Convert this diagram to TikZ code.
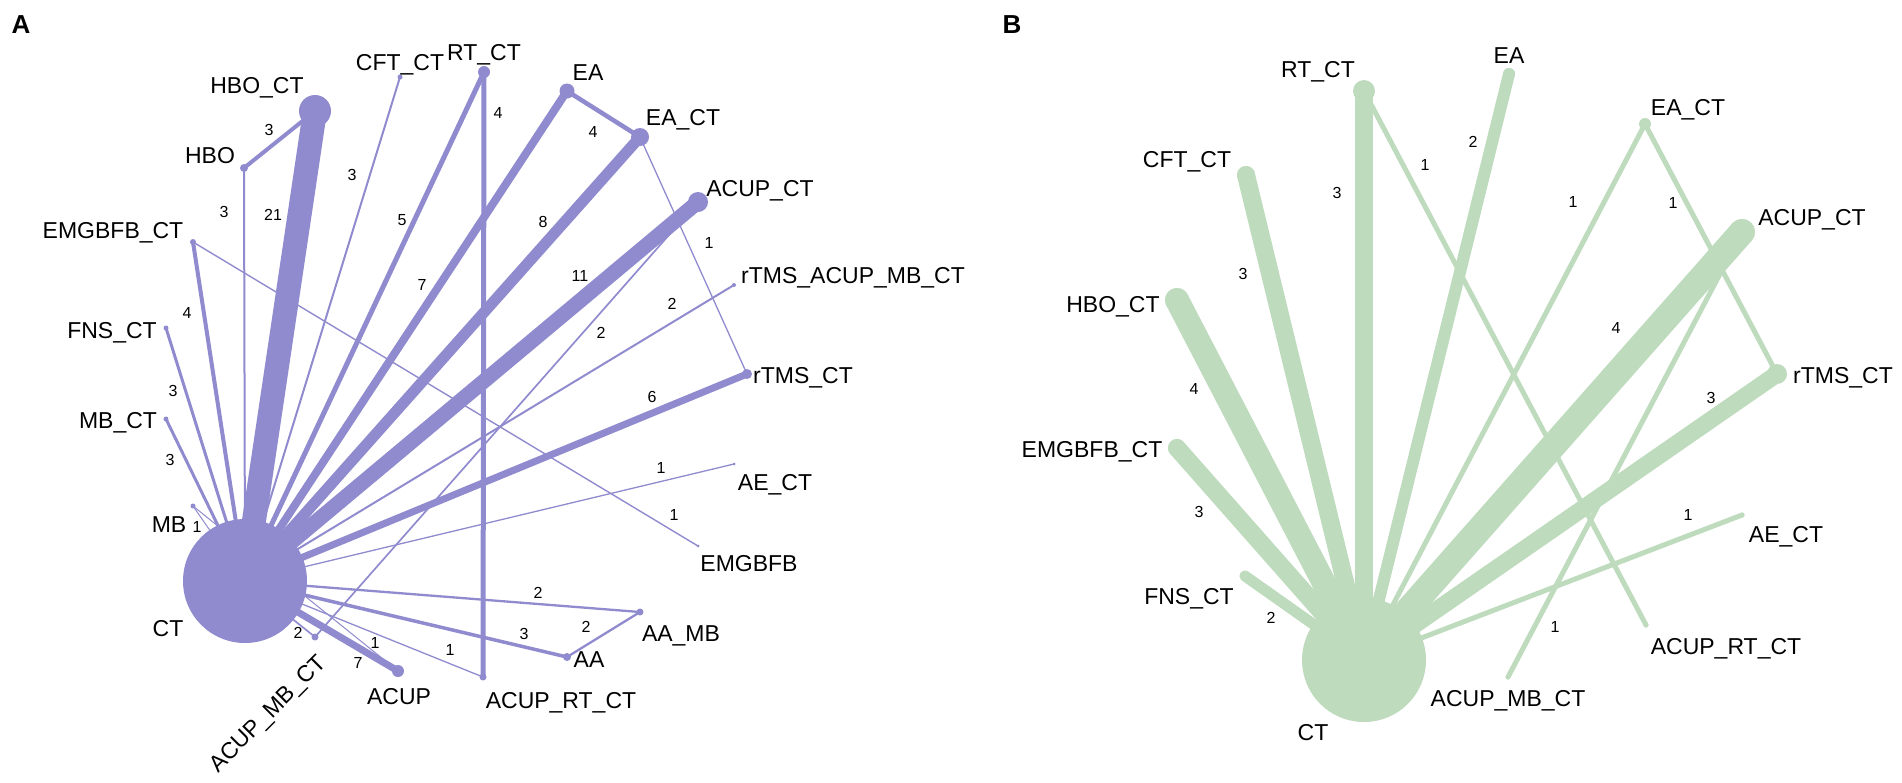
\documentclass[tikz,border=0pt]{standalone}
\usepackage{fontspec}
\setmainfont{Liberation Sans}
\usetikzlibrary{backgrounds}
\definecolor{moradoA}{RGB}{143,139,206}
\definecolor{verdeB}{RGB}{190,219,190}

\begin{document}
\begin{tikzpicture}[x=1pt,y=-1pt,
		nodoA/.style={circle, fill=moradoA, inner sep=0pt},
		nodoB/.style={circle, fill=verdeB, inner sep=0pt},
		aristaA/.style={draw=moradoA},
		aristaB/.style={draw=verdeB, line cap=round},
		etiq/.style={font=\fontsize{23}{23}\selectfont, inner sep=0pt, text height=16.5pt, text depth=0pt},
		num/.style={font=\fontsize{16}{16}\selectfont, inner sep=0pt, text height=11.5pt, text depth=0pt},
		panel/.style={font=\fontsize{26}{26}\selectfont\bfseries, inner sep=0pt, text height=18.6pt, text depth=0pt}]

		\useasboundingbox (0,0) rectangle (1902,782);

		%Panel A
		\node[panel] (pA) at (21,24) {A};

		\node[nodoA, minimum size=124] (ct) at (245,581) {};
		\node[nodoA, minimum size=32] (hboct) at (315,111) {};
		\node[nodoA, minimum size=8] (hbo) at (244,168) {};
		\node[nodoA, minimum size=5] (cftct) at (400,77) {};
		\node[nodoA, minimum size=12] (rtct) at (484,72) {};
		\node[nodoA, minimum size=15] (ea) at (567,91) {};
		\node[nodoA, minimum size=18] (eact) at (640,137) {};
		\node[nodoA, minimum size=20] (acupct) at (698,202) {};
		\node[nodoA, minimum size=4] (rtmsacupmbct) at (734,285) {};
		\node[nodoA, minimum size=10] (rtmsct) at (747,374) {};
		\node[nodoA, minimum size=3] (aect) at (734,464) {};
		\node[nodoA, minimum size=3] (emgbfb) at (698,546) {};
		\node[nodoA, minimum size=7] (aamb) at (640,612) {};
		\node[nodoA, minimum size=8] (aa) at (567,657) {};
		\node[nodoA, minimum size=7] (acuprtct) at (483,677) {};
		\node[nodoA, minimum size=12] (acup) at (398,671) {};
		\node[nodoA, minimum size=7] (acupmbct) at (315,637) {};
		\node[nodoA, minimum size=5] (mb) at (193,506) {};
		\node[nodoA, minimum size=5] (mbct) at (166,419) {};
		\node[nodoA, minimum size=5] (fnsct) at (166,328) {};
		\node[nodoA, minimum size=6] (emgbfbct) at (193,242) {};

		\begin{pgfonlayer}{background}
			\draw[aristaA, line width=24] (ct.center) -- (hboct.center);
			\draw[aristaA, line width=15] (ct.center) -- (acupct.center);
			\draw[aristaA, line width=11] (ct.center) -- (eact.center);
			\draw[aristaA, line width=8] (ct.center) -- (ea.center);
			\draw[aristaA, line width=7] (ct.center) -- (acup.center);
			\draw[aristaA, line width=7] (ct.center) -- (rtmsct.center);
			\draw[aristaA, line width=5] (ct.center) -- (rtct.center);
			\draw[aristaA, line width=4] (ct.center) -- (emgbfbct.center);
			\draw[aristaA, line width=3.5] (ct.center) -- (aa.center);
			\draw[aristaA, line width=3] (ct.center) -- (fnsct.center);
			\draw[aristaA, line width=3] (ct.center) -- (mbct.center);
			\draw[aristaA, line width=2] (ct.center) -- (hbo.center);
			\draw[aristaA, line width=2] (ct.center) -- (cftct.center);
			\draw[aristaA, line width=2.3] (ct.center) -- (aamb.center);
			\draw[aristaA, line width=2] (ct.center) -- (rtmsacupmbct.center);
			\draw[aristaA, line width=1.7] (ct.center) -- (acupmbct.center);
			\draw[aristaA, line width=1.3] (ct.center) -- (aect.center);
			\draw[aristaA, line width=1.3] (ct.center) -- (acuprtct.center);
			\draw[aristaA, line width=1] (ct.center) -- (mb.center);
			\draw[aristaA, line width=1] (mb.center) -- (acup.center);
			\draw[aristaA, line width=4] (hbo.center) -- (hboct.center);
			\draw[aristaA, line width=5] (rtct.center) -- (acuprtct.center);
			\draw[aristaA, line width=4.5] (ea.center) -- (eact.center);
			\draw[aristaA, line width=1.3] (eact.center) -- (rtmsct.center);
			\draw[aristaA, line width=1.7] (acupct.center) -- (acupmbct.center);
			\draw[aristaA, line width=1.4] (emgbfbct.center) -- (emgbfb.center);
			\draw[aristaA, line width=2.3] (aa.center) -- (aamb.center);
		\end{pgfonlayer}

		\node[etiq] (t-ct) at (168,628) {CT};
		\node[etiq] (t-hboct) at (257,85) {HBO\_CT};
		\node[etiq] (t-hbo) at (210,155) {HBO};
		\node[etiq] (t-cftct) at (400,62) {CFT\_CT};
		\node[etiq] (t-rtct) at (484,52) {RT\_CT};
		\node[etiq] (t-ea) at (588,72) {EA};
		\node[etiq] (t-eact) at (683,117) {EA\_CT};
		\node[etiq] (t-acupct) at (760,188) {ACUP\_CT};
		\node[etiq, anchor=west] (t-rtmsacupmbct) at (741,275) {rTMS\_ACUP\_MB\_CT};
		\node[etiq] (t-rtmsct) at (803,375) {rTMS\_CT};
		\node[etiq] (t-aect) at (775,482) {AE\_CT};
		\node[etiq] (t-emgbfb) at (749,563) {EMGBFB};
		\node[etiq] (t-aamb) at (681,633) {AA\_MB};
		\node[etiq] (t-aa) at (589,659) {AA};
		\node[etiq] (t-acuprtct) at (561,700) {ACUP\_RT\_CT};
		\node[etiq] (t-acup) at (399,696) {ACUP};
		\node[etiq, rotate=45] (t-acupmbct) at (267,713) {ACUP\_MB\_CT};
		\node[etiq] (t-mb) at (169,524) {MB};
		\node[etiq] (t-mbct) at (118,420) {MB\_CT};
		\node[etiq] (t-fnsct) at (112,330) {FNS\_CT};
		\node[etiq] (t-emgbfbct) at (113,230) {EMGBFB\_CT};

		\node[num] (n-hbo-hboct) at (269,130) {3};
		\node[num] (n-hbo) at (224,212) {3};
		\node[num] (n-hboct) at (273,215) {21};
		\node[num] (n-cftct) at (352,175) {3};
		\node[num] (n-rtct) at (402,220) {5};
		\node[num] (n-rtct-acuprtct) at (498,113) {4};
		\node[num] (n-ea) at (422,285) {7};
		\node[num] (n-ea-eact) at (593,132) {4};
		\node[num] (n-eact) at (543,222) {8};
		\node[num] (n-eact-rtmsct) at (709,243) {1};
		\node[num] (n-acupct) at (580,276) {11};
		\node[num] (n-acupct-acupmbct) at (601,333) {2};
		\node[num] (n-rtmsacupmbct) at (672,304) {2};
		\node[num] (n-rtmsct) at (652,397) {6};
		\node[num] (n-aect) at (661,468) {1};
		\node[num] (n-emgbfb) at (674,515) {1};
		\node[num] (n-emgbfbct) at (187,313) {4};
		\node[num] (n-fnsct) at (173,391) {3};
		\node[num] (n-mbct) at (170,460) {3};
		\node[num] (n-mb) at (197,527) {1};
		\node[num] (n-aamb) at (538,593) {2};
		\node[num] (n-aa-aamb) at (586,627) {2};
		\node[num] (n-aa) at (524,634) {3};
		\node[num] (n-acuprtct) at (450,650) {1};
		\node[num] (n-acup) at (358,663) {7};
		\node[num] (n-mb-acup) at (375,643) {1};
		\node[num] (n-acupmbct) at (298,633) {2};

		%Panel B
		\node[panel] (pB) at (1012,24) {B};

		\node[nodoB, minimum size=124] (ct2) at (1364,660) {};
		\node[nodoB, minimum size=22] (rtct2) at (1364,91) {};
		\node[nodoB, minimum size=18] (cftct2) at (1246,175) {};
		\node[nodoB, minimum size=24] (hboct2) at (1177,300) {};
		\node[nodoB, minimum size=18] (emgbfbct2) at (1177,448) {};
		\node[nodoB, minimum size=11] (fnsct2) at (1245,576) {};
		\node[nodoB, minimum size=12] (ea2) at (1509,74) {};
		\node[nodoB, minimum size=12] (eact2) at (1645,124) {};
		\node[nodoB, minimum size=26] (acupct2) at (1742,232) {};
		\node[nodoB, minimum size=20] (rtmsct2) at (1777,374) {};
		\node[nodoB, minimum size=5] (aect2) at (1742,515) {};
		\node[nodoB, minimum size=5] (acuprtct2) at (1646,625) {};
		\node[nodoB, minimum size=5] (acupmbct2) at (1508,677) {};

		\begin{pgfonlayer}{background}
			\draw[aristaB, line width=18] (ct2.center) -- (rtct2.center);
			\draw[aristaB, line width=18] (ct2.center) -- (cftct2.center);
			\draw[aristaB, line width=24] (ct2.center) -- (hboct2.center);
			\draw[aristaB, line width=18] (ct2.center) -- (emgbfbct2.center);
			\draw[aristaB, line width=11] (ct2.center) -- (fnsct2.center);
			\draw[aristaB, line width=12] (ct2.center) -- (ea2.center);
			\draw[aristaB, line width=5] (ct2.center) -- (eact2.center);
			\draw[aristaB, line width=26] (ct2.center) -- (acupct2.center);
			\draw[aristaB, line width=17] (ct2.center) -- (rtmsct2.center);
			\draw[aristaB, line width=5] (ct2.center) -- (aect2.center);
			\draw[aristaB, line width=5] (rtct2.center) -- (acuprtct2.center);
			\draw[aristaB, line width=5] (eact2.center) -- (rtmsct2.center);
			\draw[aristaB, line width=5] (acupct2.center) -- (acupmbct2.center);
		\end{pgfonlayer}

		\node[etiq] (t-ct2) at (1313,732) {CT};
		\node[etiq] (t-rtct2) at (1318,69) {RT\_CT};
		\node[etiq] (t-cftct2) at (1187,159) {CFT\_CT};
		\node[etiq] (t-hboct2) at (1113,304) {HBO\_CT};
		\node[etiq] (t-emgbfbct2) at (1092,449) {EMGBFB\_CT};
		\node[etiq] (t-fnsct2) at (1189,596) {FNS\_CT};
		\node[etiq] (t-ea2) at (1509,55) {EA};
		\node[etiq] (t-eact2) at (1688,107) {EA\_CT};
		\node[etiq] (t-acupct2) at (1812,217) {ACUP\_CT};
		\node[etiq] (t-rtmsct2) at (1843,375) {rTMS\_CT};
		\node[etiq] (t-aect2) at (1786,534) {AE\_CT};
		\node[etiq] (t-acuprtct2) at (1726,646) {ACUP\_RT\_CT};
		\node[etiq] (t-acupmbct2) at (1508,698) {ACUP\_MB\_CT};

		\node[num] (n-rtct2) at (1337,193) {3};
		\node[num] (n-rtct2-acuprtct2) at (1425,165) {1};
		\node[num] (n-cftct2) at (1243,274) {3};
		\node[num] (n-hboct2) at (1194,389) {4};
		\node[num] (n-emgbfbct2) at (1199,512) {3};
		\node[num] (n-fnsct2) at (1271,618) {2};
		\node[num] (n-ea2) at (1473,142) {2};
		\node[num] (n-eact2) at (1573,202) {1};
		\node[num] (n-eact2-rtmsct2) at (1673,203) {1};
		\node[num] (n-acupct2) at (1616,328) {4};
		\node[num] (n-rtmsct2) at (1711,398) {3};
		\node[num] (n-aect2) at (1688,515) {1};
		\node[num] (n-acupct2-acupmbct2) at (1555,627) {1};

	\end{tikzpicture}
\end{document}
